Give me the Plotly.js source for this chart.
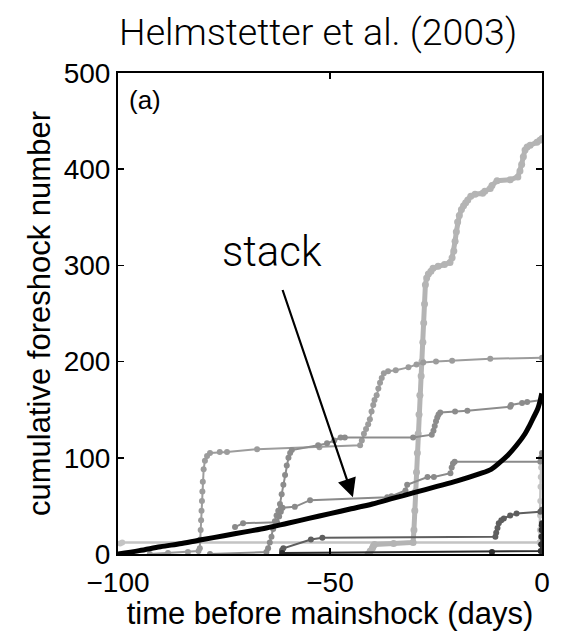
<!DOCTYPE html>
<html>
<head>
<meta charset="utf-8">
<script src="https://cdn.plot.ly/plotly-3.0.1.min.js"></script>
<style>html,body{margin:0;padding:0;background:#fff;}#chart{width:578px;height:631px;}</style>
</head>
<body>
<div id="chart"></div>
<script>
// ---- data (days before mainshock, cumulative foreshock number) ----
const seriesA_x = [-41,-40.5,-40,-39.8,-39.5,-35,-30.4,-30.2,-30,-29.8,-29.6,-29.4,-29.2,-29,-28.8,-28.5,-28.3,-28.1,-27.9,-27.7,-27.5,-27.2,-26.8,-26.2,-25.7,-24.5,-23,-21.7,-21.2,-20.8,-20.5,-20.2,-19.9,-19.5,-19,-18.5,-18,-17.5,-16.8,-15.8,-14,-13.5,-12.2,-11.8,-10.6,-7.5,-5.7,-5.2,-4.8,-4.4,-4,-3.5,-2.8,-1.2,-0.5,0];
const seriesA_y = [0,3,6,8,10,11,12,25,45,65,85,105,125,145,165,185,200,220,240,260,280,287,291,294,297,299,301,303,308,315,325,335,345,352,358,362,365,368,372,374,375,377,380,383,388,389,392,398,405,413,420,423,425,428,430,432];

const seriesB_x = [-92.5,-88.2,-83.5,-81,-80.7,-80.6,-80.5,-80.4,-80.3,-80.2,-80.1,-80,-79.8,-79.5,-79,-78.3,-76,-74.3,-67.2,-52.5,-42.9,-42.5,-42,-41.5,-41,-40.6,-40.2,-39.8,-39.5,-39,-38.6,-38.2,-37.8,-37.3,-36.3,-34.5,-31.5,-29.6,-28,-25,-21.2,-12.2,0];
const seriesB_y = [0,1,2,3,6,15,25,35,45,55,65,75,88,97,102,105,106,106,109,111,113,118,125,130,135,140,148,155,160,165,172,178,183,188,190,191,194,197,199,200,201,203,204];

const seriesC_x = [-78.3,-65,-64.6,-64.2,-63.8,-63.4,-63,-62.6,-62.2,-61.8,-61.4,-61,-60.6,-60.2,-59.8,-59.4,-59,-52.8,-50.7,-49,-47.5,-46.5,-30.4,-26,-25.6,-25.3,-25,-24.7,-24.4,-24,-20.5,-17.6,-7.5,-7.3,-4.7,-3.5,0];
const seriesC_y = [0,2,6,12,18,26,34,40,45,52,62,72,82,92,100,105,108,113,115,118,121,121,121,124,128,133,138,142,145,147,148,149,153,155,157,158,160];

const seriesD_x = [-72.4,-70.5,-62.5,-62,-61.6,-61.2,-58.3,-54.7,-36.5,-35.5,-32.2,-31.8,-27,-25.5,-21.6,-21.3,-21,-20.6,-0.4,-0.2,0];
const seriesD_y = [28,32,33,39,44,48,49,56,59,60,66,72,80,80,84,90,94,96,96,100,105];

const seriesE_x = [-99.5,-99,-0.6,-0.5,-0.45,-0.4,-0.35,-0.3,-0.2];
const seriesE_y = [11,12,12,25,40,55,70,80,90];

const seriesF_x = [-61.3,-61,-54.5,-51.8,-11,-10.8,-10.5,-10.2,-9.6,-9,-7.5,-6,-0.4,0];
const seriesF_y = [4,6,15,17,18,22,27,32,35,37,40,42,44,46];

const seriesG_x = [-61.3,-11.8,-0.3,-0.2,-0.15,-0.1,-0.05,0];
const seriesG_y = [1,2,3,10,18,25,30,32];

const stack_x = [-100,-95,-90,-85,-80,-75,-70,-65,-60,-55,-50,-45,-40,-35,-30,-25,-20,-15,-12,-10,-8,-6,-4,-3,-2,-1,-0.4,-0.05];
const stack_y = [0,3.5,7.5,11,15,19,23,27,32,37,42,47,52,58,64,70,76,83,88,95,103,113,125,133,142,151,160,167];

const xTicks = [-100,-50,0];
const xTickText = ['\u2212100','\u221250','0'];
const yTicks = [0,100,200,300,400,500];

function quake(x, y, color, lw, ms) {
  return {x: x, y: y, type: 'scatter', mode: 'lines+markers',
          line: {color: color, width: lw}, marker: {color: color, size: ms},
          hoverinfo: 'skip', showlegend: false};
}

const traces = [
  quake(seriesE_x, seriesE_y, '#c4c4c4', 2.5, 6),
  quake(seriesA_x, seriesA_y, '#b4b4b4', 5, 7),
  quake(seriesB_x, seriesB_y, '#9c9c9c', 2, 6),
  quake(seriesC_x, seriesC_y, '#8c8c8c', 2, 6),
  quake(seriesD_x, seriesD_y, '#8a8a8a', 2, 6),
  quake(seriesF_x, seriesF_y, '#5e5e5e', 2, 6),
  quake(seriesG_x, seriesG_y, '#2e2e2e', 2, 6),
  {x: stack_x, y: stack_y, type: 'scatter', mode: 'lines',
   line: {color: '#000', width: 5, shape: 'spline', smoothing: 1},
   hoverinfo: 'skip', showlegend: false}
];

const tickFont = {family: 'Liberation Sans, Arial, sans-serif', size: 28, color: '#000'};
const labelFont = {family: 'Liberation Sans, Arial, sans-serif', size: 31, color: '#000'};
const layout = {
  width: 578, height: 631,
  margin: {l: 118, r: 36, t: 73, b: 77},
  paper_bgcolor: '#fff', plot_bgcolor: '#fff',
  title: {text: 'Helmstetter et al. (2003)', font: {family: 'Roboto, Liberation Sans, sans-serif', size: 37.5, weight: 300, color: '#000'},
          x: 0.472, xref: 'paper', xanchor: 'center', y: 0.949, yref: 'container', yanchor: 'middle'},
  xaxis: {range: [-100, 0], tickvals: xTicks, ticktext: xTickText, ticks: 'inside', ticklen: 6, tickwidth: 1.5,
          tickcolor: '#000', showline: true, linecolor: '#000', linewidth: 2, mirror: 'ticks', showgrid: false, zeroline: false,
          tickfont: tickFont, ticklabelstandoff: 2,
          title: {text: 'time before mainshock (days)', font: labelFont, standoff: 0}},
  yaxis: {range: [0, 500], tickvals: yTicks, ticks: 'inside', ticklen: 6, tickwidth: 1.5,
          tickcolor: '#000', showline: true, linecolor: '#000', linewidth: 2, mirror: 'ticks', showgrid: false, zeroline: false,
          tickfont: tickFont,
          title: {text: 'cumulative foreshock number', font: labelFont, standoff: 4}},
  annotations: [
    {text: '(a)', x: -93.6, y: 472, xref: 'x', yref: 'y', showarrow: false,
     font: {family: 'Liberation Sans, Arial, sans-serif', size: 26, color: '#000'}},
    {text: 'stack', x: -63.7, y: 314, xref: 'x', yref: 'y', showarrow: false,
     font: {family: 'Roboto, Liberation Sans, sans-serif', size: 42, weight: 300, color: '#000'}},
    {text: '', x: -44.6, y: 59, xref: 'x', yref: 'y', ax: -61.3, ay: 276, axref: 'x', ayref: 'y',
     showarrow: true, arrowhead: 2, arrowsize: 1.7, arrowwidth: 2.2, arrowcolor: '#000'}
  ]
};

Plotly.newPlot('chart', traces, layout, {staticPlot: true, displayModeBar: false});
</script>
</body>
</html>
